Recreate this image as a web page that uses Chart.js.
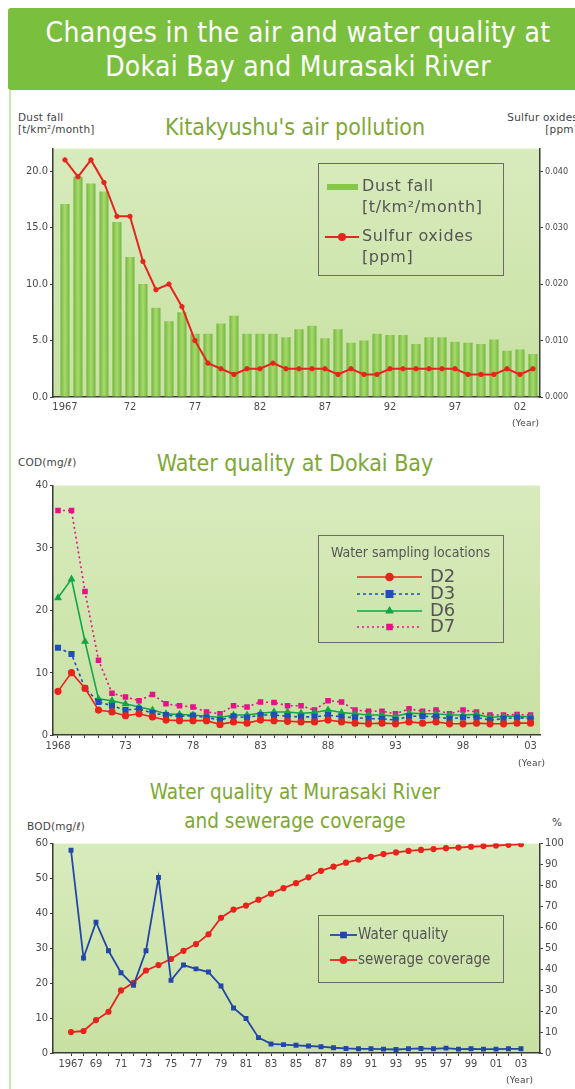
<!DOCTYPE html>
<html>
<head>
<meta charset="utf-8">
<title>Changes in the air and water quality at Dokai Bay and Murasaki River</title>
<script src="https://cdn.jsdelivr.net/npm/chart.js@4.4.1/dist/chart.umd.min.js"></script>
<style>
    body {
        margin: 0;
        width: 575px;
        height: 1089px;
        position: relative;
        overflow: hidden;
        background: #fff;
        font-family: "DejaVu Sans Condensed", "DejaVu Sans", sans-serif;
        color: #444;
    }
    .side-line {
        position: absolute;
        left: 9px;
        top: 90px;
        width: 2px;
        height: 999px;
        background: #cfe5ad;
    }
    .header {
        position: absolute;
        left: 8px;
        top: 8px;
        width: 580px;
        height: 82px;
        background: #7bbf3f;
        border-radius: 3px;
        color: #fff;
        text-align: center;
        font-size: 28px;
        line-height: 34px;
        padding-top: 8px;
        box-sizing: border-box;
        letter-spacing: 0.3px;
    }
    .title {
        position: absolute;
        left: 0;
        width: 590px;
        text-align: center;
        color: #7ea735;
        font-size: 23px;
        line-height: 28px;
    }
    .unit {
        position: absolute;
        font-family: "DejaVu Sans", sans-serif;
        font-size: 10.5px;
        line-height: 12px;
        letter-spacing: 0.2px;
        color: #444;
        white-space: nowrap;
    }
    .chart-box {
        position: absolute;
        left: 0;
        width: 575px;
    }
</style>
</head>
<body>
<div class="side-line"></div>
<div class="header">Changes in the air and water quality at<br>Dokai Bay and Murasaki River</div>

<div class="title" style="top:113px">Kitakyushu's air pollution</div>
<div class="unit" style="left:18px; top:111px">Dust fall<br>[t/km²/month]</div>
<div class="unit" style="left:475px; top:111px; width:103px; text-align:right">Sulfur oxides<br>[ppm]</div>
<div class="chart-box" style="top:140px; height:281px"><canvas id="airChart"></canvas></div>
<div class="unit" style="left:512px; top:417px; font-size:9px">(Year)</div>

<div class="title" style="top:449px">Water quality at Dokai Bay</div>
<div class="unit" style="left:18px; top:456px">COD(mg/ℓ)</div>
<div class="chart-box" style="top:477px; height:282px"><canvas id="codChart"></canvas></div>
<div class="unit" style="left:518px; top:757px; font-size:9px">(Year)</div>

<div class="title" style="top:778px; font-size:20.5px">Water quality at Murasaki River</div>
<div class="title" style="top:807px; font-size:20.5px">and sewerage coverage</div>
<div class="unit" style="left:27px; top:820px">BOD(mg/ℓ)</div>
<div class="unit" style="left:552px; top:816px">%</div>
<div class="chart-box" style="top:835px; height:242px"><canvas id="bodChart"></canvas></div>
<div class="unit" style="left:506px; top:1074px; font-size:9px">(Year)</div>

<script>
// Kitakyushu's air pollution
const airYears = [1967, 1968, 1969, 1970, 1971, 1972, 1973, 1974, 1975, 1976, 1977, 1978, 1979, 1980, 1981, 1982, 1983, 1984, 1985,
    1986, 1987, 1988, 1989, 1990, 1991, 1992, 1993, 1994, 1995, 1996, 1997, 1998, 1999, 2000, 2001, 2002, 2003];
const dustFall = [17.1, 19.5, 18.9, 18.2, 15.5, 12.4, 10.0, 7.9, 6.7, 7.5, 5.6, 5.6, 6.5, 7.2, 5.6, 5.6, 5.6, 5.3, 6.0,
    6.3, 5.2, 6.0, 4.8, 5.0, 5.6, 5.5, 5.5, 4.7, 5.3, 5.3, 4.9, 4.8, 4.7, 5.1, 4.1, 4.2, 3.8];
const sulfurOxides = [0.042, 0.039, 0.042, 0.038, 0.032, 0.032, 0.024, 0.019, 0.020, 0.016, 0.010, 0.006, 0.005, 0.004, 0.005, 0.005, 0.006, 0.005, 0.005,
    0.005, 0.005, 0.004, 0.005, 0.004, 0.004, 0.005, 0.005, 0.005, 0.005, 0.005, 0.005, 0.004, 0.004, 0.004, 0.005, 0.004, 0.005];
const airTickYears = [1967, 1972, 1977, 1982, 1987, 1992, 1997, 2002];
const airTickLabels = ['1967', '72', '77', '82', '87', '92', '97', '02'];
const dustTicks = [0, 5, 10, 15, 20];
const sulfurTicks = [0, 0.01, 0.02, 0.03, 0.04];

// Water quality at Dokai Bay (COD)
const codYears = [1968, 1969, 1970, 1971, 1972, 1973, 1974, 1975, 1976, 1977, 1978, 1979, 1980, 1981, 1982, 1983, 1984, 1985,
    1986, 1987, 1988, 1989, 1990, 1991, 1992, 1993, 1994, 1995, 1996, 1997, 1998, 1999, 2000, 2001, 2002, 2003];
const codD2 = [7.0, 10.0, 7.5, 4.0, 3.7, 3.1, 3.4, 2.9, 2.4, 2.3, 2.3, 2.3, 1.7, 2.1, 1.9, 2.4, 2.3, 2.2,
    2.1, 2.1, 2.4, 2.1, 1.9, 1.8, 1.9, 1.8, 2.1, 1.9, 2.1, 1.8, 1.8, 1.9, 1.8, 1.8, 1.9, 1.9];
const codD3 = [14.0, 13.0, 7.5, 5.3, 4.7, 4.0, 4.2, 3.5, 3.2, 3.0, 3.1, 2.8, 2.4, 3.0, 2.8, 3.2, 3.2, 3.0,
    2.9, 2.9, 3.2, 2.9, 2.8, 2.6, 2.6, 2.4, 3.0, 3.0, 2.9, 2.6, 2.8, 2.8, 2.4, 2.6, 2.8, 2.6];
const codD6 = [22.0, 25.0, 15.0, 5.8, 5.5, 5.0, 4.5, 4.0, 3.4, 3.3, 3.2, 3.0, 2.8, 3.2, 3.2, 3.5, 3.7, 3.7,
    3.5, 3.6, 4.0, 3.6, 3.4, 3.2, 3.2, 3.0, 3.5, 3.4, 3.4, 3.2, 3.2, 3.3, 2.8, 3.0, 3.0, 2.9];
const codD7 = [36.0, 36.0, 23.0, 12.0, 6.7, 6.1, 5.5, 6.5, 5.0, 4.7, 4.5, 3.7, 3.4, 4.7, 4.5, 5.3, 5.2, 4.7,
    4.7, 4.0, 5.5, 5.3, 4.0, 3.8, 3.8, 3.4, 4.2, 3.8, 4.0, 3.4, 4.0, 3.7, 3.2, 3.2, 3.3, 3.2];
const codTickYears = [1968, 1973, 1978, 1983, 1988, 1993, 1998, 2003];
const codTickLabels = ['1968', '73', '78', '83', '88', '93', '98', '03'];
const codTicks = [0, 10, 20, 30, 40];

// Water quality at Murasaki River (BOD) and sewerage coverage
const bodYears = [1967, 1968, 1969, 1970, 1971, 1972, 1973, 1974, 1975, 1976, 1977, 1978, 1979, 1980, 1981, 1982, 1983, 1984, 1985,
    1986, 1987, 1988, 1989, 1990, 1991, 1992, 1993, 1994, 1995, 1996, 1997, 1998, 1999, 2000, 2001, 2002, 2003];
const bodValues = [58.1, 27.2, 37.5, 29.3, 23.0, 19.4, 29.3, 50.3, 20.8, 25.2, 24.1, 23.2, 19.2, 12.9, 9.9, 4.4, 2.6, 2.4, 2.2,
    2.0, 1.8, 1.5, 1.3, 1.2, 1.2, 1.1, 1.0, 1.2, 1.3, 1.2, 1.4, 1.1, 1.2, 1.1, 1.1, 1.2, 1.2];
const sewerageCoverage = [10.0, 10.5, 15.7, 19.7, 29.9, 33.5, 39.4, 42.0, 44.9, 48.8, 52.0, 56.7, 64.6, 68.5, 70.4, 73.2, 76.1, 78.7, 81.1,
    83.9, 87.0, 89.0, 90.9, 92.4, 93.7, 95.0, 95.8, 96.5, 97.0, 97.4, 97.8, 98.1, 98.5, 98.8, 99.1, 99.4, 99.7];
const bodTickYears = [1967, 1969, 1971, 1973, 1975, 1977, 1979, 1981, 1983, 1985, 1987, 1989, 1991, 1993, 1995, 1997, 1999, 2001, 2003];
const bodTickLabels = ['1967', '69', '71', '73', '75', '77', '79', '81', '83', '85', '87', '89', '91', '93', '95', '97', '99', '01', '03'];
const bodTicks = [0, 10, 20, 30, 40, 50, 60];
const coverageTicks = [0, 10, 20, 30, 40, 50, 60, 70, 80, 90, 100];

const AXIS_COLOR = '#3a3a3a';
const TICK_COLOR = '#4a4a4a';

// pale green fill behind the plot area
const plotBackground = {
    id: 'plotBackground',
    beforeDraw(chart) {
        const { ctx, chartArea: a } = chart;
        if (!a) return;
        const g = ctx.createLinearGradient(0, a.top, 0, a.bottom);
        g.addColorStop(0, '#d8ebbd');
        g.addColorStop(1, '#c8e1a2');
        ctx.save();
        ctx.fillStyle = g;
        ctx.fillRect(a.left, a.top, a.right - a.left, a.bottom - a.top);
        ctx.restore();
    }
};

// framed legend drawn inside the plot, like the printed figure
const boxLegend = {
    id: 'boxLegend',
    afterDatasetsDraw(chart, args, opts) {
        if (!opts || !opts.items) return;
        const ctx = chart.ctx;
        ctx.save();
        ctx.strokeStyle = '#6b6b6b';
        ctx.lineWidth = 1;
        ctx.strokeRect(opts.x + 0.5, opts.y + 0.5, opts.w, opts.h);
        ctx.fillStyle = opts.color;
        ctx.textBaseline = 'middle';
        if (opts.title) {
            ctx.font = opts.titleFont;
            ctx.textAlign = 'center';
            ctx.fillText(opts.title, opts.x + opts.w / 2, opts.titleY);
        }
        opts.items.forEach(item => {
            const ds = chart.data.datasets[item.ds];
            if (item.kind === 'bar') {
                ctx.fillStyle = '#86c64a';
                ctx.fillRect(item.x1, item.y - 3, item.x2 - item.x1, 6);
            } else {
                ctx.strokeStyle = ds.borderColor;
                ctx.lineWidth = ds.borderWidth;
                ctx.setLineDash(ds.borderDash || []);
                ctx.beginPath();
                ctx.moveTo(item.x1, item.y);
                ctx.lineTo(item.x2, item.y);
                ctx.stroke();
                ctx.setLineDash([]);
                ctx.fillStyle = ds.pointBackgroundColor;
                ctx.strokeStyle = ds.pointBorderColor;
                Chart.helpers.drawPoint(ctx, {
                    pointStyle: ds.pointStyle,
                    radius: item.r || ds.pointRadius,
                    rotation: 0,
                    borderWidth: 1
                }, (item.x1 + item.x2) / 2, item.y);
            }
            ctx.fillStyle = opts.color;
            ctx.font = opts.font;
            ctx.letterSpacing = opts.spacing || '0px';
            ctx.textAlign = 'left';
            item.text.forEach((t, i) => ctx.fillText(t, item.tx, item.y + i * opts.lineH));
            ctx.letterSpacing = '0px';
        });
        ctx.restore();
    }
};

function points(xs, ys) {
    return ys.map((v, i) => ({ x: xs[i], y: v }));
}

function yearAxis(min, max, tickYears, tickLabels, markAll, allYears) {
    return {
        type: 'linear',
        min: min,
        max: max,
        offset: false,
        border: { color: AXIS_COLOR, width: 1.5 },
        grid: { drawOnChartArea: false, drawTicks: markAll, tickLength: 3, color: AXIS_COLOR },
        ticks: {
            autoSkip: false,
            maxRotation: 0,
            padding: markAll ? 2 : 4,
            color: TICK_COLOR,
            font: { family: 'DejaVu Sans Condensed', size: 11 },
            callback: function(v) {
                const i = tickYears.indexOf(v);
                return i >= 0 ? tickLabels[i] : '';
            }
        },
        afterBuildTicks: function(scale) {
            const vals = markAll ? allYears : tickYears;
            scale.ticks = vals.map(v => ({ value: v }));
        },
        afterFit: function(scale) { scale.height = 24; }
    };
}

function valueAxis(position, min, max, tickValues, fmt, width, fontSize) {
    return {
        type: 'linear',
        position: position,
        min: min,
        max: max,
        border: { color: AXIS_COLOR, width: 1.5 },
        grid: { drawOnChartArea: false, drawTicks: true, tickLength: 3, color: AXIS_COLOR },
        ticks: {
            padding: 2,
            color: TICK_COLOR,
            font: { family: 'DejaVu Sans Condensed', size: fontSize },
            callback: fmt
        },
        afterBuildTicks: function(scale) {
            scale.ticks = tickValues.map(v => ({ value: v }));
        },
        afterFit: function(scale) { scale.width = width; }
    };
}

// lighter stripe down the middle of each dust bar
function dustBarColor(c) {
    const chart = c.chart;
    const scale = chart.scales && chart.scales.x;
    if (c.type !== 'data' || !scale) return '#86c64a';
    const x = scale.getPixelForValue(airYears[c.dataIndex]);
    if (!isFinite(x)) return '#86c64a';
    const g = chart.ctx.createLinearGradient(x - 5, 0, x + 5, 0);
    g.addColorStop(0, '#6db43a');
    g.addColorStop(0.5, '#a9da6d');
    g.addColorStop(1, '#6db43a');
    return g;
}

document.addEventListener('DOMContentLoaded', function() {
    Chart.defaults.font.family = 'DejaVu Sans Condensed';
    Chart.defaults.animation = false;

    // ---- Kitakyushu's air pollution ----
    new Chart(document.getElementById('airChart'), {
        type: 'bar',
        data: {
            datasets: [{
                type: 'bar',
                label: 'Dust fall [t/km²/month]',
                data: points(airYears, dustFall),
                yAxisID: 'y',
                backgroundColor: dustBarColor,
                borderWidth: 0,
                categoryPercentage: 1,
                barPercentage: 0.7,
                order: 2
            }, {
                type: 'line',
                label: 'Sulfur oxides [ppm]',
                data: points(airYears, sulfurOxides),
                yAxisID: 'y1',
                borderColor: '#e8231e',
                borderWidth: 2,
                pointStyle: 'circle',
                pointRadius: 2.2,
                pointBorderWidth: 1,
                pointBackgroundColor: '#e8231e',
                pointBorderColor: '#e8231e',
                tension: 0,
                order: 1
            }]
        },
        options: {
            responsive: true,
            maintainAspectRatio: false,
            layout: { padding: { top: 5, left: 0, right: 0, bottom: 0 } },
            scales: {
                x: yearAxis(1966.08, 2003.54, airTickYears, airTickLabels, false),
                y: valueAxis('left', 0, 22, dustTicks, v => v.toFixed(1), 53, 11),
                y1: valueAxis('right', 0, 0.044, sulfurTicks, v => v.toFixed(3), 35, 9)
            },
            plugins: {
                legend: { display: false },
                tooltip: { enabled: false },
                boxLegend: {
                    x: 318, y: 23, w: 185, h: 112,
                    color: '#555',
                    font: '16px "DejaVu Sans"',
                    spacing: '0.6px',
                    lineH: 21,
                    items: [
                        { ds: 0, kind: 'bar', x1: 327, x2: 358, y: 47, tx: 362, text: ['Dust fall', '[t/km²/month]'] },
                        { ds: 1, kind: 'line', x1: 325, x2: 359, y: 97, tx: 362, r: 3, text: ['Sulfur oxides', '[ppm]'] }
                    ]
                }
            }
        },
        plugins: [plotBackground, boxLegend]
    });

    // ---- Water quality at Dokai Bay ----
    const codStyle = [
        { label: 'D2', data: codD2, color: '#e8231e', dash: [], pointStyle: 'circle', r: 2.8 },
        { label: 'D3', data: codD3, color: '#1f4fb8', dash: [3, 3], pointStyle: 'rect', r: 3.2 },
        { label: 'D6', data: codD6, color: '#13a54a', dash: [], pointStyle: 'triangle', r: 3 },
        { label: 'D7', data: codD7, color: '#e5128a', dash: [2, 3], pointStyle: 'rect', r: 2.8 }
    ];

    new Chart(document.getElementById('codChart'), {
        type: 'line',
        data: {
            datasets: codStyle.map(s => ({
                label: s.label,
                data: points(codYears, s.data),
                borderColor: s.color,
                borderWidth: 1.6,
                borderDash: s.dash,
                pointStyle: s.pointStyle,
                pointRadius: s.r,
                pointBackgroundColor: s.color,
                pointBorderColor: s.color,
                tension: 0
            }))
        },
        options: {
            responsive: true,
            maintainAspectRatio: false,
            layout: { padding: { top: 5, left: 0, right: 35, bottom: 0 } },
            scales: {
                x: yearAxis(1967.63, 2003.7, codTickYears, codTickLabels, true, codYears),
                y: valueAxis('left', 0, 40, codTicks, v => String(v), 53, 11)
            },
            plugins: {
                legend: { display: false },
                tooltip: { enabled: false },
                boxLegend: {
                    x: 318, y: 58, w: 185, h: 107,
                    color: '#555',
                    title: 'Water sampling locations',
                    titleY: 76,
                    titleFont: '14px "DejaVu Sans Condensed"',
                    font: '18px "DejaVu Sans"',
                    lineH: 17,
                    items: [
                        { ds: 0, x1: 357, x2: 422, y: 100, tx: 430, r: 3.5, text: ['D2'] },
                        { ds: 1, x1: 357, x2: 422, y: 117, tx: 430, r: 4.5, text: ['D3'] },
                        { ds: 2, x1: 357, x2: 422, y: 134, tx: 430, r: 3.5, text: ['D6'] },
                        { ds: 3, x1: 357, x2: 422, y: 150, tx: 430, r: 3.5, text: ['D7'] }
                    ]
                }
            }
        },
        plugins: [plotBackground, boxLegend]
    });

    // ---- Water quality at Murasaki River and sewerage coverage ----
    new Chart(document.getElementById('bodChart'), {
        type: 'line',
        data: {
            datasets: [{
                label: 'Water quality',
                data: points(bodYears, bodValues),
                yAxisID: 'y',
                borderColor: '#2347a8',
                borderWidth: 1.8,
                pointStyle: 'rect',
                pointRadius: 2.2,
                pointBackgroundColor: '#2347a8',
                pointBorderColor: '#2347a8',
                tension: 0
            }, {
                label: 'sewerage coverage',
                data: points(bodYears, sewerageCoverage),
                yAxisID: 'y1',
                borderColor: '#e8231e',
                borderWidth: 1.8,
                pointStyle: 'circle',
                pointRadius: 2.2,
                pointBackgroundColor: '#e8231e',
                pointBorderColor: '#e8231e',
                tension: 0
            }]
        },
        options: {
            responsive: true,
            maintainAspectRatio: false,
            layout: { padding: { top: 5, left: 0, right: 0, bottom: 0 } },
            scales: {
                x: yearAxis(1965.56, 2004.52, bodTickYears, bodTickLabels, true, bodYears),
                y: valueAxis('left', 0, 60, bodTicks, v => String(v), 53, 11),
                y1: valueAxis('right', 0, 100, coverageTicks, v => String(v), 35, 11)
            },
            plugins: {
                legend: { display: false },
                tooltip: { enabled: false },
                boxLegend: {
                    x: 318, y: 80, w: 185, h: 67,
                    color: '#555',
                    font: '15px "DejaVu Sans Condensed"',
                    lineH: 0,
                    items: [
                        { ds: 0, x1: 330, x2: 357, y: 100, tx: 358, r: 3.5, text: ['Water quality'] },
                        { ds: 1, x1: 330, x2: 357, y: 125, tx: 358, r: 3, text: ['sewerage coverage'] }
                    ]
                }
            }
        },
        plugins: [plotBackground, boxLegend]
    });
});
</script>
</body>
</html>
